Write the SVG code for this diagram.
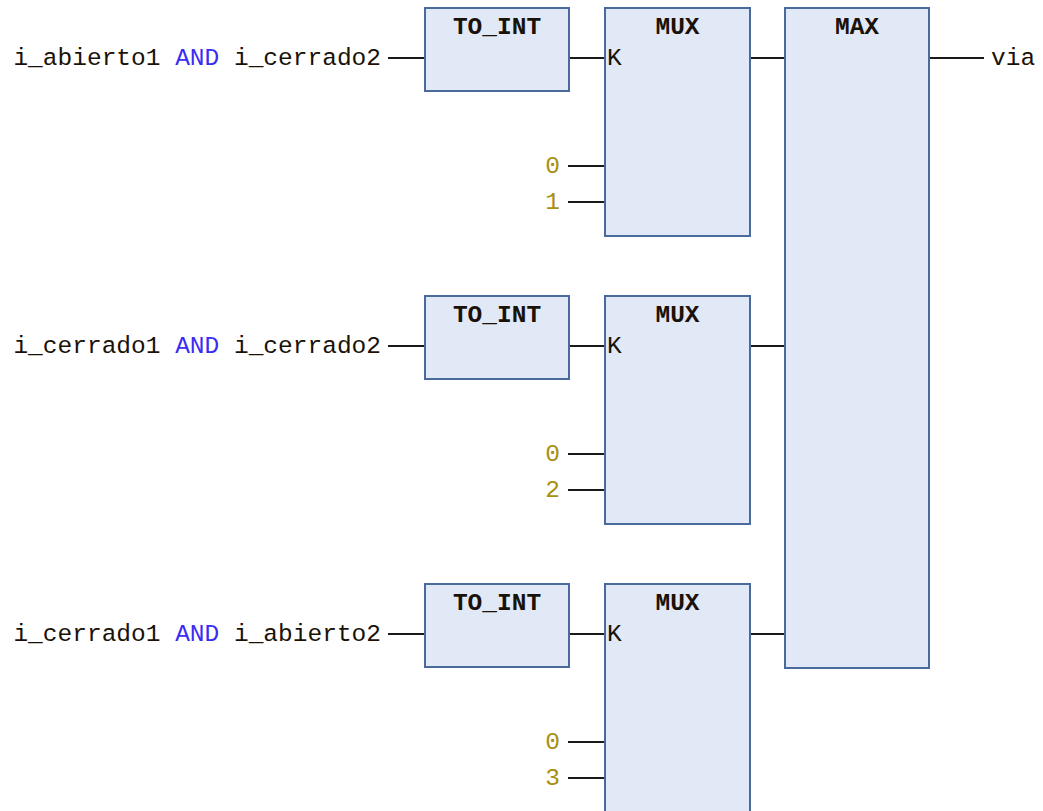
<svg xmlns="http://www.w3.org/2000/svg" width="1043" height="811" viewBox="0 0 1043 811">
<style>
.blk{fill:#e1e8f6;stroke:#4a6a9e;stroke-width:2}
.w{stroke:#1a1a1a;stroke-width:2;fill:none}
.t{font-family:"Liberation Mono","Courier New",monospace;font-size:24.5px;fill:#1a1208}
.b{font-weight:bold}
.kw{fill:#3a2cf0}
.num{fill:#a89010}
</style>
<rect width="1043" height="811" fill="#ffffff"/>
<g id="connectors">
<path class="w" d="M388 58H425M569 58H605M750 58H785M929 58H984"/>
<path class="w" d="M568 166H605M568 202H605"/>
<path class="w" d="M388 346H425M569 346H605M750 346H785"/>
<path class="w" d="M568 454H605M568 490H605"/>
<path class="w" d="M388 634H425M569 634H605M750 634H785"/>
<path class="w" d="M568 742H605M568 778H605"/>
</g>
<g id="in1"><text class="t" x="381" y="65" text-anchor="end">i_abierto1 <tspan class="kw">AND</tspan> i_cerrado2</text></g>
<g id="in2"><text class="t" x="381" y="353" text-anchor="end">i_cerrado1 <tspan class="kw">AND</tspan> i_cerrado2</text></g>
<g id="in3"><text class="t" x="381" y="641" text-anchor="end">i_cerrado1 <tspan class="kw">AND</tspan> i_abierto2</text></g>
<g id="toint1"><rect class="blk" x="425" y="8" width="144" height="83"/><text class="t b" x="497" y="34" text-anchor="middle">TO_INT</text></g>
<g id="toint2"><rect class="blk" x="425" y="296" width="144" height="83"/><text class="t b" x="497" y="322" text-anchor="middle">TO_INT</text></g>
<g id="toint3"><rect class="blk" x="425" y="584" width="144" height="83"/><text class="t b" x="497" y="610" text-anchor="middle">TO_INT</text></g>
<g id="mux1"><rect class="blk" x="605" y="8" width="145" height="228"/><text class="t b" x="677.5" y="34" text-anchor="middle">MUX</text><text class="t" x="607" y="65">K</text></g>
<g id="mux2"><rect class="blk" x="605" y="296" width="145" height="228"/><text class="t b" x="677.5" y="322" text-anchor="middle">MUX</text><text class="t" x="607" y="353">K</text></g>
<g id="mux3"><rect class="blk" x="605" y="584" width="145" height="240"/><text class="t b" x="677.5" y="610" text-anchor="middle">MUX</text><text class="t" x="607" y="641">K</text></g>
<g id="max"><rect class="blk" x="785" y="8" width="144" height="660"/><text class="t b" x="857" y="34" text-anchor="middle">MAX</text></g>
<g id="consts">
<text class="t num" x="560" y="173" text-anchor="end">0</text>
<text class="t num" x="560" y="209" text-anchor="end">1</text>
<text class="t num" x="560" y="461" text-anchor="end">0</text>
<text class="t num" x="560" y="497" text-anchor="end">2</text>
<text class="t num" x="560" y="749" text-anchor="end">0</text>
<text class="t num" x="560" y="785" text-anchor="end">3</text>
</g>
<g id="out"><text class="t" x="991" y="65">via</text></g>
</svg>
